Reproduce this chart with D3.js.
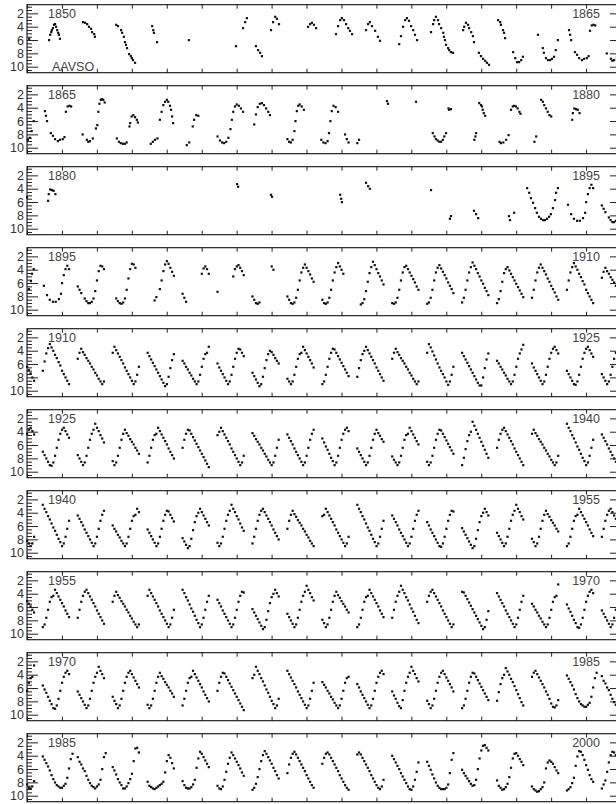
<!DOCTYPE html>
<html>
<head>
<meta charset="utf-8">
<script src="https://cdn.jsdelivr.net/npm/d3@7"></script>
<style>
html, body { margin: 0; padding: 0; background: #fff; overflow: hidden; }
svg { display: block; font-family: "Liberation Sans", Arial, Helvetica, sans-serif; }
</style>
</head>
<body>
<svg id="chart"></svg>
<script>
// Mira (o Ceti) visual light curve, AAVSO, one panel per 15 years
const panelStarts = [1850, 1865, 1880, 1895, 1910, 1925, 1940, 1955, 1970, 1985]
const magTicks = [2, 4, 6, 8, 10]
const magMinor = [1, 1.5, 2.5, 3, 3.5, 4.5, 5, 5.5, 6.5, 7, 7.5, 8.5, 9, 9.5, 10.5]

// Early, sparse observations: [decimal year, visual magnitude]
const obs1850 = [
  [1849.06, 5.8], [1849.63, 6.0], [1849.66, 5.2], [1849.69, 4.8], [1849.71, 4.5], [1849.74, 4.2],
  [1849.77, 3.7], [1849.80, 3.6], [1849.83, 4.0], [1849.86, 4.5], [1849.89, 4.9], [1849.91, 5.2],
  [1849.94, 5.8], [1850.60, 3.3], [1850.66, 3.4], [1850.72, 3.6], [1850.77, 4.0], [1850.83, 4.3],
  [1850.86, 4.8], [1850.92, 5.1], [1850.94, 5.5], [1851.55, 3.7], [1851.60, 3.9], [1851.69, 4.5],
  [1851.72, 4.9], [1851.77, 5.5], [1851.80, 6.3], [1851.83, 6.7], [1851.86, 7.2], [1851.92, 8.1],
  [1851.97, 8.4], [1852.00, 8.7], [1852.03, 9.0], [1852.09, 9.4], [1852.58, 3.9], [1852.61, 4.5],
  [1852.63, 4.9], [1852.72, 6.3], [1853.63, 6.0], [1854.98, 6.9], [1855.18, 4.2], [1855.24, 3.3],
  [1855.29, 2.7], [1855.55, 6.9], [1855.61, 7.5], [1855.67, 7.9], [1855.72, 8.4], [1855.98, 4.5],
  [1856.04, 3.3], [1856.10, 2.5], [1856.15, 2.8], [1856.21, 3.6], [1857.04, 4.0], [1857.10, 3.6],
  [1857.15, 3.4], [1857.21, 3.7], [1857.27, 4.2], [1857.84, 5.1], [1857.90, 3.9], [1857.96, 3.0],
  [1858.01, 2.7], [1858.07, 3.0], [1858.13, 3.6], [1858.19, 4.2], [1858.24, 4.6], [1858.30, 5.1],
  [1858.70, 4.5], [1858.76, 3.6], [1858.81, 3.3], [1858.87, 3.9], [1858.96, 4.6], [1859.04, 5.5],
  [1859.10, 6.1], [1859.65, 6.6], [1859.70, 5.4], [1859.76, 4.0], [1859.82, 3.0], [1859.87, 2.7],
  [1859.93, 3.1], [1859.99, 3.9], [1860.05, 4.5], [1860.10, 5.2], [1860.16, 6.0], [1860.56, 4.8],
  [1860.62, 3.6], [1860.65, 3.0], [1860.70, 2.5], [1860.76, 3.0], [1860.79, 3.6], [1860.85, 4.2],
  [1860.91, 4.9], [1860.93, 5.5], [1860.96, 6.0], [1860.99, 6.7], [1861.05, 7.2], [1861.08, 7.5],
  [1861.13, 7.8], [1861.19, 7.9], [1861.48, 4.5], [1861.51, 4.0], [1861.56, 3.4], [1861.62, 3.7],
  [1861.65, 4.2], [1861.71, 4.8], [1861.76, 5.4], [1861.79, 6.3], [1861.93, 7.9], [1861.99, 8.4],
  [1862.05, 8.8], [1862.11, 9.1], [1862.16, 9.4], [1862.22, 9.7], [1862.48, 3.0], [1862.54, 3.3],
  [1862.56, 3.7], [1862.62, 4.5], [1862.65, 4.9], [1862.68, 5.7], [1862.91, 7.8], [1862.97, 8.7],
  [1863.02, 9.3], [1863.08, 9.3], [1863.14, 9.0], [1863.19, 8.5], [1863.62, 5.2], [1863.76, 7.2],
  [1863.79, 7.9], [1863.85, 8.7], [1863.91, 9.0], [1863.97, 9.0], [1864.02, 8.8], [1864.08, 8.5],
  [1864.13, 7.5], [1864.19, 6.0], [1864.51, 4.5], [1864.54, 5.2], [1864.57, 6.0], [1864.68, 7.8],
  [1864.74, 8.2], [1864.80, 8.7], [1864.88, 9.0], [1864.94, 8.8]
]

const obs1865 = [
  [1865.02, 8.7], [1865.07, 8.4], [1865.11, 4.6], [1865.16, 3.8], [1865.21, 3.7], [1865.26, 3.8],
  [1865.59, 8.0], [1865.71, 8.8], [1865.75, 9.1], [1865.80, 9.0], [1865.88, 8.6], [1865.97, 7.1],
  [1866.01, 6.6], [1866.04, 4.6], [1866.07, 3.4], [1866.11, 2.8], [1866.14, 2.7], [1866.18, 2.8],
  [1866.22, 3.2], [1866.57, 8.6], [1866.63, 9.1], [1866.68, 9.3], [1866.74, 9.4], [1866.80, 9.4],
  [1866.85, 9.2], [1866.93, 6.8], [1866.95, 6.3], [1866.99, 5.3], [1867.04, 5.1], [1867.09, 5.4],
  [1867.14, 5.8], [1867.17, 6.2], [1867.54, 9.4], [1867.60, 9.1], [1867.66, 8.8], [1867.73, 8.6],
  [1867.80, 5.8], [1867.85, 4.6], [1867.90, 3.6], [1867.95, 3.1], [1868.00, 2.8], [1868.04, 3.1],
  [1868.09, 3.7], [1868.12, 4.3], [1868.15, 5.3], [1868.18, 6.3], [1868.57, 9.6], [1868.64, 9.2],
  [1868.74, 6.8], [1868.78, 5.8], [1868.84, 5.1], [1868.90, 5.2],
  [1869.45, 8.3], [1869.52, 8.9], [1869.58, 9.2], [1869.64, 9.3], [1869.70, 9.1], [1869.76, 8.5],
  [1869.82, 7.2], [1869.86, 5.8], [1869.90, 4.6], [1869.95, 3.8], [1870.00, 3.5], [1870.06, 3.7],
  [1870.12, 4.1], [1870.18, 4.6], [1870.50, 6.5], [1870.55, 5.0], [1870.60, 3.9], [1870.66, 3.4],
  [1870.72, 3.3], [1870.78, 3.6], [1870.84, 4.1], [1870.90, 4.6], [1870.95, 5.1], [1871.45, 8.7],
  [1871.50, 9.1], [1871.55, 9.2], [1871.60, 8.8], [1871.65, 7.5], [1871.68, 6.0], [1871.72, 4.5],
  [1871.76, 3.7], [1871.80, 3.5], [1871.86, 3.8], [1871.92, 4.3], [1872.42, 8.8], [1872.48, 9.2],
  [1872.54, 9.3], [1872.60, 9.0], [1872.64, 7.8], [1872.68, 6.0], [1872.72, 4.5], [1872.77, 3.7],
  [1872.83, 3.9], [1872.90, 4.6], [1873.10, 8.0], [1873.15, 8.7], [1873.20, 9.2], [1873.45, 9.3],
  [1873.50, 8.8], [1874.30, 3.0], [1874.33, 3.4],
  [1875.13, 3.1], [1875.61, 7.8], [1875.66, 8.3], [1875.70, 8.7], [1875.75, 8.9], [1875.80, 9.1],
  [1875.85, 9.1], [1875.90, 8.8], [1875.94, 8.3], [1875.99, 7.8], [1876.06, 4.1], [1876.08, 4.3],
  [1876.13, 4.2], [1876.80, 8.8], [1876.83, 8.3], [1876.85, 7.8], [1876.94, 3.3], [1876.99, 3.6],
  [1877.02, 3.8], [1877.04, 4.3], [1877.07, 4.8], [1877.11, 5.2], [1877.52, 9.1], [1877.56, 9.3],
  [1877.63, 9.2], [1877.71, 8.8], [1877.78, 8.1], [1877.85, 4.3], [1877.90, 3.8], [1877.94, 3.7],
  [1877.99, 3.8], [1878.04, 4.1], [1878.09, 4.6], [1878.12, 4.9], [1878.52, 9.1], [1878.57, 8.3],
  [1878.71, 2.8], [1878.76, 3.1], [1878.80, 3.6], [1878.85, 4.1], [1878.90, 4.6], [1878.95, 5.1],
  [1879.00, 5.3], [1879.60, 5.8], [1879.62, 4.8], [1879.66, 4.1], [1879.71, 4.2], [1879.76, 4.3],
  [1879.81, 4.8]
]

const obs1880 = [
  [1885.01, 3.3], [1885.04, 3.7], [1885.98, 4.9], [1886.01, 5.2], [1887.96, 4.9], [1887.99, 5.5],
  [1888.01, 6.0], [1888.70, 3.1], [1888.76, 3.6], [1888.81, 4.0], [1890.56, 4.2], [1891.10, 8.5],
  [1891.13, 8.1], [1891.79, 7.3], [1891.85, 7.8], [1891.91, 8.4], [1892.79, 8.1], [1892.82, 8.7],
  [1892.94, 7.6], [1893.31, 3.9], [1893.37, 4.6], [1893.42, 5.4], [1893.48, 6.1], [1893.54, 6.9],
  [1893.59, 7.6], [1893.65, 8.2], [1893.71, 8.5], [1893.77, 8.7], [1893.82, 8.7], [1893.88, 8.5],
  [1893.94, 8.2], [1893.99, 7.8], [1894.05, 6.9], [1894.11, 5.7], [1894.14, 4.6], [1894.19, 3.9],
  [1894.48, 6.4], [1894.57, 7.8], [1894.65, 8.5], [1894.74, 8.8], [1894.82, 8.8], [1894.91, 8.4],
  [1894.97, 7.6]
]

// Later, denser record: mean magnitude every 0.05 yr from the first year of each block,
// one row per year (null = no estimate, e.g. Mira too near the Sun)
const binYears = 0.05
const n = null

const mag1895 = [
  6.0, 4.8, 3.9, 3.4, 3.9, n, n, n, n, 6.5, 7.0, 7.5, n, 8.3, 8.7, 9.0, 9.0, 8.8, 8.3, 7.2,
  5.6, 4.2, 3.4, 3.5, 3.9, n, n, n, n, n, n, 8.3, 8.7, 9.0, 9.1, 8.9, 8.3, 7.0, 5.3, 3.9,
  3.1, 3.2, 3.7, n, n, n, n, n, n, n, n, n, n, 8.6, 8.1, n, 6.9, 5.6, 4.2, 3.2,
  2.7, 3.1, 3.7, 4.3, 4.9, n, n, n, n, 7.6, 8.2, 8.8, n, n, n, n, n, n, n, n,
  4.6, 3.8, 3.5, 3.9, 4.6, n, n, n, n, 7.3, n, n, n, n, n, n, n, n, 5.0, 3.9,
  3.5, 3.3, 3.7, 4.2, 4.8, n, n, n, n, 8.0, 8.5, 9.0, 9.1, 8.9, n, n, n, n, n, n,
  3.5, 4.0, n, n, n, n, n, n, n, 8.0, 8.5, 9.0, 9.1, 8.9, 8.2, 7.0, 5.6, 4.4, 3.7, 3.2,
  3.7, 4.2, 4.7, 5.3, 5.8, n, n, n, n, 8.5, 9.0, 9.1, 8.9, 8.2, 7.0, 5.6, 4.4, 3.6, 3.0, 3.5,
  4.0, 4.6, n, n, n, n, n, n, n, n, n, 9.2, 9.0, 8.4, 7.2, 5.8, 4.5, 3.6, 2.8, 3.3,
  3.9, 4.5, 5.0, 5.6, 6.2, n, n, n, n, 9.0, 9.1, 8.9, 8.2, 7.0, 5.6, 4.4, 3.6, 3.4, 3.9, 4.4,
  4.9, 5.4, 5.9, 6.5, 7.0, n, n, n, n, 9.1, 8.9, 8.2, 7.0, 5.6, 4.4, 3.7, 3.3, 3.8, 4.3, 4.8,
  5.3, 5.9, 6.4, 6.9, 7.5, n, n, n, n, 8.9, 8.2, 7.0, 5.6, 4.4, 3.6, 2.9, 3.4, 3.9, 4.5, 5.0,
  5.6, 6.1, 6.7, 7.2, 7.8, n, n, n, n, 9.0, 8.4, 7.2, 5.8, 4.5, 3.9, 3.6, 4.1, 4.6, 5.1, 5.6,
  6.1, 6.6, 7.1, 7.6, 8.1, n, n, n, n, 8.2, 7.0, 5.6, 4.4, 3.7, 3.2, 3.7, 4.2, 4.7, 5.3, 5.8,
  6.4, 6.9, 7.4, 8.0, 8.5, n, n, n, n, 7.0, 5.6, 4.4, 3.6, 3.0, 3.5, 4.0, 4.6, 5.1, 5.7, 6.2
]

const mag1910 = [
  7.0, 7.5, 8.0, 8.5, 9.0, n, n, n, n, 5.2, 4.3, 3.7, 4.2, 4.6, 5.1, 5.5, 5.9, 6.4, 6.8, 7.3,
  7.7, 8.2, 8.6, 9.0, 8.6, n, n, n, n, 4.3, 3.4, 3.9, 4.4, 4.9, 5.4, 5.9, 6.5, 7.0, 7.5, 8.0,
  8.5, 9.0, 8.6, 7.6, 6.4, n, n, n, n, 4.3, 4.8, 5.3, 5.8, 6.3, 6.8, 7.3, 7.8, 8.3, 8.8, 9.3,
  9.0, 7.9, 6.6, 5.4, 4.5, n, n, n, n, 5.5, 5.9, 6.4, 6.8, 7.3, 7.7, 8.2, 8.6, 9.0, 8.6, 7.6,
  6.4, 5.2, 4.5, 4.3, 3.4, n, n, n, n, 5.9, 6.5, 7.0, 7.5, 8.0, 8.5, 9.0, 8.6, 7.6, 6.4, 5.2,
  4.3, 3.7, 3.8, 4.3, 4.8, n, n, n, n, 7.3, 7.8, 8.3, 8.8, 9.3, 9.0, 7.9, 6.6, 5.4, 4.5, 4.0,
  4.2, 4.6, 5.1, 5.5, 5.9, n, n, n, n, 8.2, 8.6, 9.0, 8.6, 7.6, 6.4, 5.2, 4.5, 4.3, 3.4, 3.9,
  4.4, 4.9, 5.4, 5.9, 6.5, n, n, n, n, 9.0, 8.6, 7.6, 6.4, 5.2, 4.3, 3.7, 3.8, 4.3, 4.8, 5.3,
  5.8, 6.3, 6.8, 7.3, 7.8, n, n, n, n, 7.9, 6.6, 5.4, 4.5, 4.0, 3.4, 3.9, 4.4, 4.9, 5.4, 5.9,
  6.5, 7.0, 7.5, 8.0, 8.5, n, n, n, n, 5.2, 4.3, 3.7, 4.2, 4.6, 5.1, 5.5, 5.9, 6.4, 6.8, 7.3,
  7.7, 8.2, 8.6, 9.0, 8.6, n, n, n, n, 4.3, 3.0, 3.5, 4.1, 4.7, 5.3, 5.9, 6.5, 7.0, 7.5, 8.0,
  8.6, 9.1, 8.6, 7.6, 6.4, n, n, n, n, 4.3, 4.8, 5.3, 5.8, 6.3, 6.8, 7.3, 7.8, 8.3, 8.8, 9.2,
  9.2, 8.0, 6.6, 5.3, 4.4, n, n, n, n, 5.5, 5.9, 6.4, 6.8, 7.3, 7.7, 8.2, 8.6, 9.0, 8.6, 7.6,
  6.4, 5.2, 4.4, 3.8, 3.1, n, n, n, n, 5.9, 6.5, 7.0, 7.5, 8.0, 8.5, 9.0, 8.6, 7.6, 6.4, 5.2,
  4.3, 3.7, 3.4, 3.9, 4.4, n, n, n, n, 7.0, 7.5, 8.0, 8.5, 9.0, 9.1, 8.6, 7.6, 6.4, 5.2, 4.3
]

const mag1925 = [
  3.7, 3.4, 3.9, 4.4, 4.9, n, n, n, n, 7.5, 8.0, 8.5, 9.0, 8.6, 7.6, 6.4, 5.2, 4.3, 3.7, 2.8,
  3.4, 3.9, 4.5, 5.0, 5.6, n, n, n, n, 8.4, 9.0, 8.6, 7.6, 6.4, 5.2, 4.3, 3.7, 4.2, 4.6, 5.1,
  5.5, 5.9, 6.4, 6.8, 7.3, n, n, n, n, 8.6, 7.6, 6.4, 5.2, 4.5, 4.3, 3.4, 3.9, 4.4, 4.9, 5.4,
  5.9, 6.5, 7.0, 7.5, 8.0, n, n, n, n, 6.4, 5.2, 4.3, 3.7, 3.8, 4.3, 4.8, 5.3, 5.8, 6.3, 6.8,
  7.3, 7.8, 8.3, 8.8, 9.3, n, n, n, n, 4.5, 4.0, 3.4, 3.9, 4.4, 4.9, 5.4, 5.9, 6.5, 7.0, 7.5,
  8.0, 8.5, 9.0, 8.6, 7.6, n, n, n, n, 4.2, 4.6, 5.1, 5.5, 5.9, 6.4, 6.8, 7.3, 7.7, 8.2, 8.6,
  9.0, 8.6, 7.6, 6.4, 5.2, n, n, n, n, 4.4, 4.9, 5.4, 5.9, 6.5, 7.0, 7.5, 8.0, 8.5, 9.0, 8.6,
  7.6, 6.4, 5.2, 4.3, 3.7, n, n, n, n, 5.0, 5.6, 6.2, 6.7, 7.3, 7.9, 8.4, 9.0, 8.6, 7.6, 6.4,
  5.2, 4.3, 3.7, 3.4, 3.9, n, n, n, n, 6.5, 7.0, 7.5, 8.0, 8.5, 9.0, 8.6, 7.6, 6.4, 5.2, 4.3,
  3.7, 4.2, 4.6, 5.1, 5.5, n, n, n, n, 7.7, 8.2, 8.6, 9.0, 8.6, 7.6, 6.4, 5.2, 4.5, 4.3, 3.4,
  3.9, 4.4, 4.9, 5.4, 5.9, n, n, n, n, 8.5, 9.0, 8.6, 7.6, 6.4, 5.2, 4.3, 3.7, 3.8, 4.3, 4.8,
  5.3, 5.8, 6.3, 6.8, 7.3, n, n, n, n, 9.0, 7.9, 6.6, 5.4, 4.5, 4.0, 2.5, 3.1, 3.7, 4.3, 4.9,
  5.5, 6.1, 6.7, 7.3, 7.9, n, n, n, n, 6.4, 5.2, 4.3, 3.7, 3.4, 3.9, 4.4, 4.9, 5.4, 5.9, 6.5,
  7.0, 7.5, 8.0, 8.5, 9.0, n, n, n, n, 4.3, 3.7, 4.2, 4.6, 5.1, 5.5, 5.9, 6.4, 6.8, 7.3, 7.7,
  8.2, 8.6, 9.0, 8.6, 7.6, n, n, n, n, 2.8, 3.4, 3.9, 4.5, 5.0, 5.6, 6.2, 6.7, 7.3, 7.9, 8.4
]

const mag1940 = [
  9.0, 8.6, 7.6, 6.4, 5.2, n, n, n, n, 4.4, 4.9, 5.4, 5.9, 6.5, 7.0, 7.5, 8.0, 8.5, 9.0, 8.6,
  7.6, 6.4, 5.2, 4.3, 3.7, n, n, n, n, 5.9, 6.4, 6.8, 7.3, 7.7, 8.2, 8.6, 9.0, 8.6, 7.6, 6.4,
  5.2, 4.5, 4.3, 3.4, 3.9, n, n, n, n, 6.5, 7.0, 7.5, 8.0, 8.5, 9.0, 8.6, 7.6, 6.4, 5.2, 4.3,
  3.7, 3.8, 4.3, 4.8, 5.3, n, n, n, n, 7.8, 8.3, 8.8, 9.3, 9.0, 7.9, 6.6, 5.4, 4.5, 4.0, 3.4,
  3.9, 4.4, 4.9, 5.4, 5.9, n, n, n, n, 8.5, 9.0, 8.6, 7.6, 6.4, 5.2, 4.3, 3.7, 2.8, 3.4, 3.9,
  4.5, 5.0, 5.6, 6.2, 6.7, n, n, n, n, 8.6, 7.6, 6.4, 5.2, 4.3, 3.7, 3.4, 3.9, 4.4, 4.9, 5.4,
  5.9, 6.5, 7.0, 7.5, 8.0, n, n, n, n, 6.4, 5.2, 4.3, 3.7, 4.2, 4.6, 5.1, 5.5, 5.9, 6.4, 6.8,
  7.3, 7.7, 8.2, 8.6, 9.0, n, n, n, n, 4.5, 4.3, 3.4, 3.9, 4.4, 4.9, 5.4, 5.9, 6.5, 7.0, 7.5,
  8.0, 8.5, 9.0, 8.6, 7.6, n, n, n, n, 2.8, 3.4, 3.9, 4.5, 5.0, 5.6, 6.2, 6.7, 7.3, 7.9, 8.4,
  9.0, 8.6, 7.6, 6.4, 5.2, n, n, n, n, 4.4, 4.9, 5.4, 5.9, 6.5, 7.0, 7.5, 8.0, 8.5, 9.0, 8.6,
  7.6, 6.4, 5.2, 4.3, 3.7, n, n, n, n, 5.4, 5.9, 6.5, 7.0, 7.5, 8.0, 8.5, 9.0, 9.1, 8.6, 7.6,
  6.4, 5.2, 4.3, 3.7, 3.8, n, n, n, n, 6.3, 6.8, 7.3, 7.8, 8.3, 8.8, 9.3, 9.0, 7.9, 6.6, 5.4,
  4.5, 4.0, 3.4, 3.9, 4.4, n, n, n, n, 7.0, 7.5, 8.0, 8.5, 9.0, 8.6, 7.6, 6.4, 5.2, 4.3, 3.7,
  2.8, 3.4, 3.9, 4.5, 5.0, n, n, n, n, 7.9, 8.4, 9.0, 8.6, 7.6, 6.4, 5.2, 4.3, 3.7, 4.2, 4.6,
  5.1, 5.5, 5.9, 6.4, 6.8, n, n, n, n, 9.0, 8.6, 7.6, 6.4, 5.2, 4.5, 4.3, 3.4, 3.9, 4.4, 4.9
]

const mag1955 = [
  5.4, 5.9, 6.5, 7.0, 7.5, n, n, n, n, 7.6, 6.4, 5.2, 4.3, 3.7, 3.4, 3.9, 4.4, 4.9, 5.4, 5.9,
  6.5, 7.0, 7.5, 8.0, 8.5, n, n, n, n, 5.2, 4.3, 3.7, 4.2, 4.6, 5.1, 5.5, 5.9, 6.4, 6.8, 7.3,
  7.7, 8.2, 8.6, 9.0, 8.6, n, n, n, n, 4.3, 3.4, 3.9, 4.4, 4.9, 5.4, 5.9, 6.5, 7.0, 7.5, 8.0,
  8.5, 9.0, 8.6, 7.6, 6.4, n, n, n, n, 3.4, 3.9, 4.5, 5.0, 5.6, 6.2, 6.7, 7.3, 7.9, 8.4, 9.0,
  8.6, 7.6, 6.4, 5.2, 4.3, n, n, n, n, 4.9, 5.4, 5.9, 6.5, 7.0, 7.5, 8.0, 8.5, 9.0, 8.6, 7.6,
  6.4, 5.2, 4.3, 3.7, 3.8, n, n, n, n, 6.3, 6.8, 7.3, 7.8, 8.3, 8.8, 9.3, 9.0, 7.9, 6.6, 5.4,
  4.5, 4.0, 3.4, 3.9, 4.4, n, n, n, n, 7.0, 7.5, 8.0, 8.5, 9.0, 8.6, 7.6, 6.4, 5.2, 4.3, 3.7,
  2.8, 3.4, 3.9, 4.5, 5.0, n, n, n, n, 7.9, 8.4, 9.0, 8.6, 7.6, 6.4, 5.2, 4.3, 3.7, 4.2, 4.6,
  5.1, 5.5, 5.9, 6.4, 6.8, n, n, n, n, 9.0, 8.6, 7.6, 6.4, 5.2, 4.5, 4.3, 3.4, 3.9, 4.4, 4.9,
  5.4, 5.9, 6.5, 7.0, 7.5, n, n, n, n, 7.6, 6.4, 5.2, 4.3, 3.7, 2.8, 3.4, 3.9, 4.5, 5.0, 5.6,
  6.2, 6.7, 7.3, 7.9, 8.4, n, n, n, n, 5.2, 4.3, 3.7, 3.4, 3.9, 4.4, 4.9, 5.4, 5.9, 6.5, 7.0,
  7.5, 8.0, 8.5, 9.0, 8.6, n, n, n, n, 3.7, 3.8, 4.3, 4.8, 5.3, 5.8, 6.3, 6.8, 7.3, 7.8, 8.3,
  8.8, 9.3, 9.0, 7.9, 6.6, n, n, n, n, 3.9, 4.4, 4.9, 5.4, 5.9, 6.5, 7.0, 7.5, 8.0, 8.5, 9.0,
  8.6, 7.6, 6.4, 5.2, 4.3, n, n, n, n, 5.5, 5.9, 6.4, 6.8, 7.3, 7.7, 8.2, 8.6, 9.0, 8.6, 7.6,
  6.4, 5.2, 4.5, 4.3, 2.6, n, n, n, n, 5.6, 6.2, 6.7, 7.3, 7.9, 8.4, 9.0, 9.1, 8.6, 7.6, 6.4
]

const mag1970 = [
  5.2, 4.3, 3.7, 3.4, 3.9, n, n, n, n, 6.5, 7.0, 7.5, 8.0, 8.5, 9.0, 8.6, 7.6, 6.4, 5.2, 4.3,
  3.7, 2.8, 3.4, 3.9, 4.5, n, n, n, n, 7.3, 7.9, 8.4, 9.0, 8.6, 7.6, 6.4, 5.2, 4.3, 3.7, 3.4,
  3.9, 4.4, 4.9, 5.4, 5.9, n, n, n, n, 8.5, 9.0, 8.6, 7.6, 6.4, 5.2, 4.3, 3.7, 4.2, 4.6, 5.1,
  5.5, 5.9, 6.4, 6.8, 7.3, n, n, n, n, 8.6, 7.6, 6.4, 5.2, 4.5, 4.3, 3.4, 3.9, 4.4, 4.9, 5.4,
  5.9, 6.5, 7.0, 7.5, 8.0, n, n, n, n, 6.4, 5.2, 4.3, 3.7, 3.8, 4.3, 4.8, 5.3, 5.8, 6.3, 6.8,
  7.3, 7.8, 8.3, 8.8, 9.3, n, n, n, n, 4.5, 4.0, 2.8, 3.4, 3.9, 4.5, 5.0, 5.6, 6.2, 6.7, 7.3,
  7.9, 8.4, 9.0, 8.6, 7.6, n, n, n, n, 3.4, 3.9, 4.4, 4.9, 5.4, 5.9, 6.5, 7.0, 7.5, 8.0, 8.5,
  9.0, 8.6, 7.6, 6.4, 5.2, n, n, n, n, 5.1, 5.5, 5.9, 6.4, 6.8, 7.3, 7.7, 8.2, 8.6, 9.0, 8.6,
  7.6, 6.4, 5.2, 4.5, 4.3, n, n, n, n, 5.4, 5.9, 6.5, 7.0, 7.5, 8.0, 8.5, 9.0, 8.6, 7.6, 6.4,
  5.2, 4.3, 3.7, 3.4, 3.9, n, n, n, n, 6.5, 7.1, 7.6, 8.2, 8.7, 9.0, 7.8, 6.4, 5.2, 4.3, 3.7,
  2.8, 3.4, 3.9, 4.5, 5.0, n, n, n, n, 7.9, 8.4, 9.0, 8.6, 7.6, 6.4, 5.2, 4.3, 3.7, 3.4, 3.9,
  4.4, 4.9, 5.4, 5.9, 6.5, n, n, n, n, 9.0, 8.6, 7.6, 6.4, 5.2, 4.3, 3.7, 3.8, 4.3, 4.8, 5.3,
  5.8, 6.3, 6.8, 7.3, 7.8, n, n, n, n, 7.9, 6.6, 5.4, 4.5, 4.0, 3.0, 3.5, 4.0, 4.6, 5.1, 5.7,
  6.3, 6.9, 7.5, 8.1, 8.6, n, n, n, n, 4.3, 3.7, 3.4, 3.9, 4.4, 4.9, 5.4, 5.9, 6.5, 7.0, 7.6,
  8.3, 8.8, 8.9, 8.6, 7.8, n, n, n, n, 4.1, 4.6, 5.1, 5.6, 6.2, 6.9, 7.5, 8.0, 8.4, 8.6, 8.8
]

const mag1985 = [
  8.8, 8.5, 8.2, 7.3, 5.9, 4.5, 3.7, n, n, 4.2, 4.9, 5.3, 5.9, 6.3, 7.0, 7.6, 8.1, 8.5, 8.7, 8.9,
  8.6, 8.3, 7.6, 6.0, 4.2, 3.6, n, n, n, 5.7, 6.2, 6.8, 7.5, 8.0, 8.4, 8.9, 8.9, 8.6, 8.1, 7.5,
  6.7, 4.8, 2.9, 2.8, 3.5, n, n, n, n, 7.9, 8.5, 8.7, 8.9, 9.0, 8.8, 8.6, 8.4, 8.2, 7.9, 6.5,
  4.8, 3.9, 4.3, 5.1, 5.9, n, n, n, n, 7.8, 8.4, 8.8, 8.9, 8.9, 8.7, 8.3, 7.6, 5.8, 4.4, 3.4,
  3.7, 4.2, 4.7, 5.2, 5.7, n, n, n, n, 8.5, 8.9, 9.0, 8.6, 7.6, 6.4, 5.2, 4.3, 3.5, 3.9, 4.4,
  4.9, 5.4, 5.9, 6.5, 7.0, n, n, n, n, 9.1, 8.8, 8.2, 7.2, 6.0, 4.8, 3.9, 3.3, 3.7, 4.2, 4.7,
  5.2, 5.8, 6.3, 6.9, 7.4, n, n, n, n, 6.6, 5.3, 4.3, 3.7, 3.4, 3.8, 4.3, 4.8, 5.3, 5.8, 6.3,
  6.9, 7.4, 7.9, 8.4, 8.8, n, n, n, n, 5.2, 4.3, 3.7, 3.5, 3.8, 4.3, 4.8, 5.3, 5.8, 6.3, 6.9,
  7.4, 7.9, 8.4, 8.8, 9.1, n, n, n, n, 3.8, 3.5, 3.8, 4.3, 4.8, 5.3, 5.8, 6.3, 6.9, 7.4, 7.9,
  8.4, 8.8, 9.0, 8.6, 7.6, n, n, n, n, 4.0, 4.5, 5.0, 5.5, 6.0, 6.6, 7.1, 7.6, 8.1, 8.6, 9.0,
  9.1, 8.6, 7.6, 6.4, 5.0, n, n, n, n, 4.9, 5.5, 6.1, 6.8, 7.4, 8.0, 8.5, 8.8, 9.0, 9.0, 9.0,
  8.8, 8.3, 6.6, 4.6, 3.6, n, n, n, n, 6.1, 6.6, 7.0, 7.4, 7.8, 8.2, 8.5, 8.4, 7.6, 6.0, 4.4,
  3.2, 2.5, 2.4, 2.8, 3.2, n, n, n, n, 7.7, 8.5, 8.8, 9.1, 9.0, 8.7, 8.2, 7.2, 5.8, 4.4, 3.7,
  3.6, 4.0, 4.5, 4.9, 5.4, n, n, n, n, 8.6, 9.0, 9.2, 9.4, 9.3, 9.0, 8.7, 8.0, 5.9, 5.0, 4.7,
  4.9, 5.2, 5.7, 6.2, 6.6, n, n, n, n, 9.2, 9.0, 8.7, 8.1, 7.3, 5.5, 4.1, 3.3, 3.4, 3.9, 4.6,
  5.4, 6.1, 6.9, 7.5, 7.9, n, n, n, n, 8.9, 8.3, 7.7, 6.4, 5.0, 3.9, 3.4, 3.5, 3.9, 4.5, 5.2
]

const binnedBlocks = [
  [1895, mag1895], [1910, mag1910], [1925, mag1925], [1940, mag1940],
  [1955, mag1955], [1970, mag1970], [1985, mag1985]
]

const observations = [
  ...obs1850, ...obs1865, ...obs1880,
  ...binnedBlocks.flatMap(([first, mags]) => mags
      .map((m, i) => [first + i * binYears, m])
      .filter(d => d[1] !== null))
]

const width = 616, height = 804
const margin = { left: 27, top: 4.7 }
const plotW = 594, plotH = 68, pitch = 81
const majorTick = 11, minorTick = 5, yearTick = 4

const svg = d3.select('#chart')
    .attr('width', width)
    .attr('height', height)

panelStarts.forEach((start, i) => {
    const top = margin.top + i * pitch
    const x = d3.scaleLinear().domain([start - 1, start + 16]).range([margin.left, margin.left + plotW])
    const y = d3.scaleLinear().domain([0.7, 10.9]).range([top, top + plotH])
    const years = d3.range(start - 1, start + 17)

    const panel = svg.append('g')

    // Points
    const pts = observations.filter(d => d[0] >= start - 1 && d[0] <= start + 16)
    panel.append('g').selectAll('rect')
        .data(pts)
        .join('rect')
        .attr('x', d => x(d[0]) - 1)
        .attr('y', d => y(d[1]) - 1)
        .attr('width', 2.2)
        .attr('height', 2.2)
        .attr('fill', '#111')

    // Left / right magnitude axes, ticks pointing in
    const left = panel.append('g').attr('transform', `translate(${margin.left},0)`)
        .call(d3.axisLeft(y).tickValues(magTicks).tickSize(-majorTick).tickPadding(3).tickFormat(d3.format('d')))
    panel.append('g').attr('transform', `translate(${margin.left},0)`)
        .call(d3.axisLeft(y).tickValues(magMinor).tickSize(-minorTick).tickFormat(''))
    panel.append('g').attr('transform', `translate(${margin.left + plotW},0)`)
        .call(d3.axisRight(y).tickValues(magTicks).tickSize(-majorTick).tickFormat(''))
    panel.append('g').attr('transform', `translate(${margin.left + plotW},0)`)
        .call(d3.axisRight(y).tickValues(magMinor).tickSize(-minorTick).tickFormat(''))

    // Year ticks top and bottom
    panel.append('g').attr('transform', `translate(0,${top})`)
        .call(d3.axisTop(x).tickValues(years).tickSize(-yearTick).tickFormat(''))
    panel.append('g').attr('transform', `translate(0,${top + plotH})`)
        .call(d3.axisBottom(x).tickValues(years).tickSize(-yearTick).tickFormat(''))

    panel.selectAll('.domain').remove()
    panel.selectAll('.tick line').attr('stroke', '#222')
    left.selectAll('text').attr('font-size', 12.5).attr('fill', '#333').attr('font-family', null)

    // Frame
    panel.append('rect')
        .attr('x', margin.left).attr('y', top)
        .attr('width', plotW).attr('height', plotH)
        .attr('fill', 'none').attr('stroke', '#111').attr('stroke-width', 1.1)

    // Year labels at first and last full year
    panel.append('text')
        .attr('x', x(start)).attr('y', top + 13.5)
        .attr('text-anchor', 'middle').attr('font-size', 12.5).attr('fill', '#444')
        .text(start)
    panel.append('text')
        .attr('x', x(start + 15)).attr('y', top + 13.5)
        .attr('text-anchor', 'middle').attr('font-size', 12.5).attr('fill', '#444')
        .text(start + 15)

    if (i === 0) {
        panel.append('text')
            .attr('x', margin.left + 25).attr('y', top + plotH - 2)
            .attr('font-size', 12.5).attr('fill', '#444')
            .text('AAVSO')
    }
})
</script>
</body>
</html>
